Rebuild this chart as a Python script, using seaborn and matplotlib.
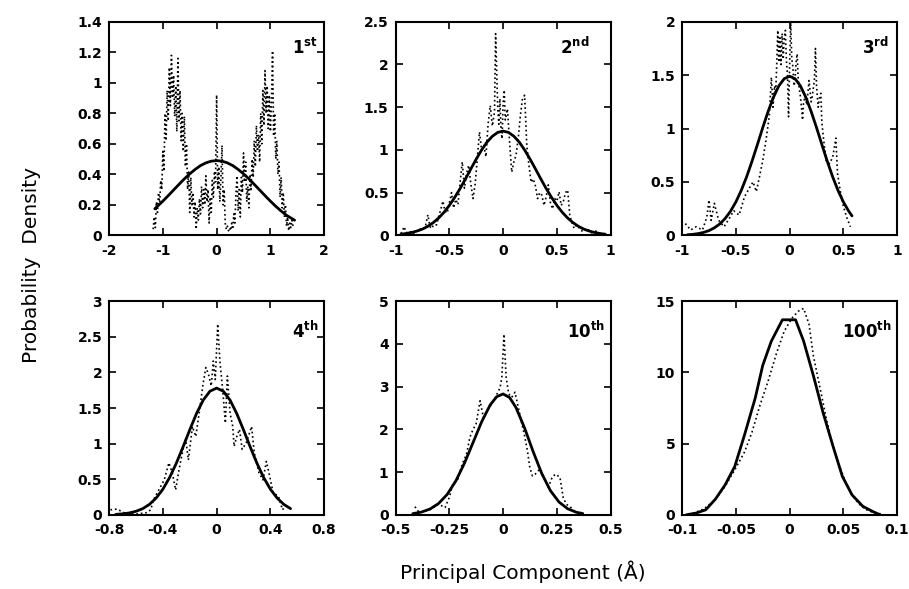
import matplotlib
matplotlib.use("Agg")
import matplotlib.pyplot as plt
import seaborn as sns
from matplotlib.ticker import FuncFormatter

# ---- 1st principal component: histogram (dotted) and gaussian fit (solid)
p1_x = [-1.18, -1.16, -1.14, -1.12, -1.10, -1.08, -1.06, -1.04, -1.02, -1.00,
        -0.98, -0.96, -0.94, -0.92, -0.90, -0.88, -0.86, -0.84, -0.82, -0.80,
        -0.78, -0.76, -0.74, -0.72, -0.70, -0.68, -0.66, -0.64, -0.62, -0.60,
        -0.58, -0.56, -0.54, -0.52, -0.50, -0.48, -0.46, -0.44, -0.42, -0.40,
        -0.38, -0.36, -0.34, -0.32, -0.30, -0.28, -0.26, -0.24, -0.22, -0.20,
        -0.18, -0.16, -0.14, -0.12, -0.10, -0.08, -0.06, -0.04, -0.02, 0.00,
        0.02, 0.04, 0.06, 0.08, 0.10, 0.12, 0.14, 0.16, 0.18, 0.20,
        0.22, 0.24, 0.26, 0.28, 0.30, 0.32, 0.34, 0.36, 0.38, 0.40,
        0.42, 0.44, 0.46, 0.48, 0.50, 0.52, 0.54, 0.56, 0.58, 0.60,
        0.62, 0.64, 0.66, 0.68, 0.70, 0.72, 0.74, 0.76, 0.78, 0.80,
        0.82, 0.84, 0.86, 0.88, 0.90, 0.92, 0.94, 0.96, 0.98, 1.00,
        1.02, 1.04, 1.06, 1.08, 1.10, 1.12, 1.14, 1.16, 1.18, 1.20,
        1.22, 1.24, 1.26, 1.28, 1.30, 1.32, 1.34, 1.36, 1.38, 1.40,
        1.42]
p1_y = [.04, .12, .05, .22, .15, .28, .20, .36, .30, .55,
        .42, .80, .62, .95, .75, 1.10, .85, 1.18, .90, 1.05,
        .78, .98, .68, 1.16, .75, .95, .62, .80, .55, .78,
        .45, .60, .30, .42, .15, .38, .20, .28, .12, .22,
        .04, .18, .10, .24, .14, .32, .18, .30, .20, .39,
        .22, .30, .08, .25, .15, .36, .25, .42, .35, .92,
        .30, .45, .22, .38, .59, .20, .30, .08, .04, .06,
        .03, .05, .03, .08, .04, .14, .08, .28, .39, .16,
        .30, .12, .38, .28, .54, .35, .48, .22, .32, .18,
        .40, .30, .50, .38, .62, .45, .72, .55, .66, .48,
        .80, .60, .95, .72, 1.08, .80, .98, .70, .92, .68,
        .88, 1.21, .65, .80, .50, .62, .40, .48, .25, .38,
        .18, .28, .12, .20, .06, .12, .03, .08, .05, .10,
        .06]
p1_fit_x = [-1.15, -1.0, -0.9, -0.8, -0.7, -0.6, -0.5, -0.4, -0.3, -0.2, -0.1, 0.0, 0.1,
            0.2, 0.3, 0.4, 0.5, 0.6, 0.7, 0.8, 0.9, 1.0, 1.1, 1.2, 1.3, 1.45]
p1_fit_y = [.174, .224, .260, .297, .334, .370, .403, .432, .457, .475, .486, .49, .486,
            .475, .457, .432, .403, .370, .334, .297, .260, .224, .190, .159, .131, .099]

# ---- 2nd
p2_x = [-0.95, -0.92, -0.90, -0.87, -0.84, -0.81, -0.78, -0.75, -0.72, -0.70,
        -0.68, -0.66, -0.64, -0.62, -0.60, -0.58, -0.56, -0.54, -0.52, -0.50,
        -0.48, -0.46, -0.44, -0.42, -0.40, -0.38, -0.36, -0.34, -0.32, -0.30,
        -0.28, -0.26, -0.24, -0.22, -0.20, -0.18, -0.16, -0.14, -0.12, -0.10,
        -0.08, -0.07, -0.05, -0.04, -0.03, -0.02, -0.01, 0.00, 0.01, 0.02,
        0.04, 0.06, 0.08, 0.10, 0.12, 0.14, 0.16, 0.18, 0.20, 0.22,
        0.24, 0.26, 0.28, 0.30, 0.32, 0.34, 0.36, 0.38, 0.40, 0.42,
        0.44, 0.46, 0.48, 0.50, 0.52, 0.54, 0.56, 0.58, 0.60, 0.62,
        0.64, 0.66, 0.68, 0.70, 0.72, 0.75, 0.78, 0.82, 0.86, 0.90,
        0.94]
p2_y = [.02, .10, .03, .05, .01, .04, .08, .06, .12, .24,
        .10, .08, .16, .12, .22, .30, .40, .28, .26, .38,
        .50, .32, .42, .36, .62, .86, .55, .72, .82, .60,
        .43, .60, .90, 1.21, 1.00, 1.05, .92, 1.30, 1.52, 1.28,
        1.45, 2.36, 1.48, 1.30, 1.60, 1.25, 1.13, 1.55, 1.70, 1.35,
        1.48, 1.09, .74, .86, .94, 1.13, 1.40, 1.60, 1.64, 1.05,
        .82, .62, .66, .58, .43, .50, .47, .35, .45, .59,
        .38, .31, .43, .40, .51, .35, .40, .50, .53, .23,
        .15, .08, .12, .10, .06, .04, .08, .03, .05, .02,
        .01]
p2_fit_x = [-0.95, -0.9, -0.85, -0.8, -0.75, -0.7, -0.65, -0.6, -0.55, -0.5, -0.45, -0.4, -0.35,
            -0.3, -0.25, -0.2, -0.15, -0.1, -0.05, 0.0, 0.05, 0.1, 0.15, 0.2, 0.25, 0.3, 0.35,
            0.4, 0.45, 0.5, 0.55, 0.6, 0.65, 0.7, 0.75, 0.8, 0.85, 0.9, 0.95]
p2_fit_y = [.013, .021, .033, .050, .073, .105, .148, .202, .269, .350, .444, .548, .661,
            .778, .893, .999, 1.091, 1.160, 1.205, 1.22, 1.205, 1.160, 1.091, .999, .893, .778, .661,
            .548, .444, .350, .269, .202, .148, .105, .073, .050, .033, .021, .013]

# ---- 3rd
p3_x = [-0.97, -0.92, -0.87, -0.81, -0.77, -0.75, -0.73, -0.70, -0.66, -0.61,
        -0.56, -0.52, -0.47, -0.42, -0.37, -0.34, -0.31, -0.28, -0.25, -0.22,
        -0.19, -0.17, -0.155, -0.14, -0.13, -0.12, -0.11, -0.10, -0.09, -0.08,
        -0.07, -0.06, -0.05, -0.04, -0.03, -0.02, -0.01, 0.00, 0.01, 0.02,
        0.03, 0.04, 0.05, 0.06, 0.07, 0.08, 0.10, 0.11, 0.12, 0.13,
        0.145, 0.16, 0.18, 0.20, 0.21, 0.23, 0.24, 0.25, 0.265, 0.28,
        0.29, 0.30, 0.32, 0.34, 0.37, 0.40, 0.43, 0.445, 0.47, 0.50,
        0.53, 0.565]
p3_y = [.11, .05, .08, .05, .17, .33, .14, .30, .14, .08,
        .16, .23, .19, .36, .45, .50, .41, .55, .70, .89,
        1.11, 1.48, 1.20, 1.40, 1.33, 1.60, 1.92, 1.62, 1.85, 1.60,
        1.89, 1.65, 1.85, 1.92, 1.64, 1.50, 1.11, 1.60, 2.00, 1.65,
        1.58, 1.40, 1.45, 1.62, 1.70, 1.45, 1.30, 1.20, 1.08, 1.25,
        1.30, 1.22, 1.45, 1.25, 1.30, 1.45, 1.75, 1.40, 1.20, 1.30,
        1.33, 1.05, .86, .70, .67, .73, .91, .58, .42, .27,
        .17, .08]
p3_fit_x = [-0.95, -0.9, -0.85, -0.8, -0.75, -0.7, -0.65, -0.6, -0.55, -0.5, -0.45, -0.4, -0.35,
            -0.3, -0.25, -0.2, -0.15, -0.1, -0.05, 0.0, 0.05, 0.1, 0.15, 0.2, 0.25, 0.3, 0.35,
            0.4, 0.45, 0.5, 0.55, 0.58]
p3_fit_y = [.005, .009, .016, .027, .044, .070, .106, .157, .225, .312, .420, .548, .693,
            .849, 1.009, 1.160, 1.294, 1.400, 1.467, 1.49, 1.467, 1.400, 1.294, 1.160, 1.009, .849, .693,
            .548, .420, .312, .225, .182]

# ---- 4th
p4_x = [-0.79, -0.74, -0.68, -0.60, -0.52, -0.49, -0.47, -0.43, -0.39, -0.355,
        -0.33, -0.305, -0.28, -0.25, -0.23, -0.21, -0.18, -0.155, -0.13, -0.10,
        -0.08, -0.06, -0.04, -0.025, -0.01, 0.008, 0.025, 0.045, 0.065, 0.08,
        0.10, 0.12, 0.13, 0.15, 0.17, 0.19, 0.22, 0.26, 0.28, 0.315,
        0.345, 0.37, 0.395, 0.42, 0.46, 0.49, 0.51]
p4_y = [.07, .08, .02, .01, .03, .07, .21, .35, .49, .73,
        .59, .35, .63, .92, 1.06, .77, 1.24, 1.10, 1.43, 1.85,
        2.07, 1.97, 1.81, 2.16, 1.90, 2.68, 2.14, 1.76, 1.29, 1.95,
        1.43, 1.24, .96, 1.10, 1.20, .92, 1.01, 1.24, .87, .59,
        .49, .75, .54, .31, .26, .07, .12]
p4_fit_x = [-0.75, -0.7, -0.65, -0.6, -0.55, -0.5, -0.45, -0.4, -0.35, -0.3, -0.25, -0.2, -0.15,
            -0.1, -0.05, 0.0, 0.05, 0.1, 0.15, 0.2, 0.25, 0.3, 0.35, 0.4, 0.45, 0.5, 0.55]
p4_fit_y = [.006, .013, .026, .049, .086, .146, .235, .359, .523, .724, .953, 1.193, 1.421,
            1.611, 1.736, 1.78, 1.736, 1.611, 1.421, 1.193, .953, .724, .523, .359, .235, .146, .086]

# ---- 10th
p5_x = [-0.41, -0.39, -0.36, -0.335, -0.30, -0.27, -0.25, -0.234, -0.21, -0.19,
        -0.17, -0.155, -0.14, -0.126, -0.107, -0.092, -0.075, -0.053, -0.032, -0.014,
        -0.006, 0.004, 0.014, 0.026, 0.04, 0.055, 0.069, 0.084, 0.098, 0.113,
        0.124, 0.136, 0.149, 0.17, 0.19, 0.21, 0.228, 0.243, 0.264, 0.279,
        0.293, 0.315, 0.33]
p5_y = [.19, .05, .09, .13, .25, .17, .41, .72, .84, 1.19,
        1.42, 1.81, 2.00, 2.12, 2.67, 2.28, 2.44, 2.59, 2.79, 2.98,
        3.22, 4.23, 3.22, 2.83, 2.75, 2.87, 2.55, 2.20, 1.89, 1.50,
        1.11, .91, .95, 1.07, .88, .64, .88, .95, .88, .41,
        .25, .17, .09]
p5_fit_x = [-0.42, -0.38, -0.34, -0.30, -0.26, -0.22, -0.18, -0.14, -0.10, -0.06, -0.03, 0.0,
            0.03, 0.06, 0.10, 0.14, 0.18, 0.22, 0.26, 0.30, 0.34, 0.37]
p5_fit_y = [.027, .063, .135, .265, .478, .792, 1.206, 1.690, 2.176, 2.575, 2.765, 2.83,
            2.746, 2.510, 2.029, 1.473, .961, .564, .297, .141, .060, .030]

# ---- 100th
p6_x = [-0.090, -0.080, -0.070, -0.060, -0.050, -0.042, -0.035, -0.028, -0.020, -0.012,
        -0.005, 0.002, 0.008, 0.013, 0.018, 0.022, 0.028, 0.034, 0.040, 0.046,
        0.052, 0.058, 0.064, 0.070, 0.078, 0.086]
p6_y = [0.1, 0.4, 1.0, 2.0, 3.3, 4.4, 5.8, 7.6, 9.4, 11.4,
        12.9, 13.8, 14.3, 14.5, 13.4, 11.2, 9.0, 6.8, 4.9, 3.5,
        2.3, 1.4, 0.8, 0.4, 0.15, 0.05]
p6_fit_x = [-0.096, -0.087, -0.078, -0.069, -0.060, -0.051, -0.042, -0.032, -0.025, -0.017,
            -0.0067, 0.0055, 0.013, 0.022, 0.031, 0.040, 0.049, 0.058, 0.068, 0.077, 0.084]
p6_fit_y = [0.0, 0.12, 0.35, 1.1, 2.1, 3.4, 5.6, 8.2, 10.5, 12.2,
            13.7, 13.7, 12.2, 9.8, 7.2, 4.9, 2.7, 1.4, 0.6, 0.24, 0.0]

# axis ranges / ticks and panel names
x_ticks = [[-2, -1, 0, 1, 2], [-1, -0.5, 0, 0.5, 1], [-1, -0.5, 0, 0.5, 1],
           [-0.8, -0.4, 0, 0.4, 0.8], [-0.5, -0.25, 0, 0.25, 0.5], [-0.1, -0.05, 0, 0.05, 0.1]]
y_ticks = [[0, 0.2, 0.4, 0.6, 0.8, 1, 1.2, 1.4], [0, 0.5, 1, 1.5, 2, 2.5], [0, 0.5, 1, 1.5, 2],
           [0, 0.5, 1, 1.5, 2, 2.5, 3], [0, 1, 2, 3, 4, 5], [0, 5, 10, 15]]
names = [("1", "st"), ("2", "nd"), ("3", "rd"), ("4", "th"), ("10", "th"), ("100", "th")]
name_x = [0.97, 0.90, 0.96, 0.975, 0.975, 0.975]

traces = [(p1_x, p1_y), (p2_x, p2_y), (p3_x, p3_y), (p4_x, p4_y), (p5_x, p5_y), (p6_x, p6_y)]
fits = [(p1_fit_x, p1_fit_y), (p2_fit_x, p2_fit_y), (p3_fit_x, p3_fit_y),
        (p4_fit_x, p4_fit_y), (p5_fit_x, p5_fit_y), (p6_fit_x, p6_fit_y)]

sns.set_theme(style="ticks")
plt.rcParams['font.family'] = ['DejaVu Sans']
plt.rcParams['axes.unicode_minus'] = False
plt.rcParams['text.color'] = 'black'

fig, axes = plt.subplots(2, 3, figsize=(9.09, 5.89), dpi=100)
fig.subplots_adjust(left=0.12, right=0.987, top=0.963, bottom=0.126, wspace=0.332, hspace=0.309)

fmt = FuncFormatter(lambda v, p: '%g' % v)

for i, ax in enumerate(axes.flat):
    tx, ty = traces[i]
    fx, fy = fits[i]
    sns.lineplot(x=tx, y=ty, ax=ax, color='black', linewidth=1.2,
                 linestyle=(0, (1, 1.7)), sort=False, estimator=None)
    sns.lineplot(x=fx, y=fy, ax=ax, color='black', linewidth=2.0,
                 sort=False, estimator=None)

    ax.set_xlim(x_ticks[i][0], x_ticks[i][-1])
    ax.set_ylim(y_ticks[i][0], y_ticks[i][-1])
    ax.set_xticks(x_ticks[i])
    ax.set_yticks(y_ticks[i])
    ax.xaxis.set_major_formatter(fmt)
    ax.yaxis.set_major_formatter(fmt)
    ax.tick_params(direction='in', top=True, right=True, length=5, width=1.2,
                   labelsize=10, colors='black')
    ax.tick_params(axis='x', pad=6)
    ax.tick_params(axis='y', pad=5)
    for lab in ax.get_xticklabels() + ax.get_yticklabels():
        lab.set_fontweight('bold')
    for sp in ax.spines.values():
        sp.set_linewidth(1.5)
        sp.set_color('black')

    num, suf = names[i]
    ax.text(name_x[i], 0.85 if i < 3 else 0.83, r'$\mathbf{%s}^{\mathbf{%s}}$' % (num, suf),
            transform=ax.transAxes, ha='right', va='baseline', fontsize=12, color='black')

fig.text(0.035, 0.55, 'Probability  Density', rotation=90, ha='center', va='center',
         fontsize=14.5, color='black')
fig.text(0.575, 0.029, 'Principal Component (Å)', ha='center', va='center',
         fontsize=14.5, color='black')

fig.savefig('out.png', dpi=100, facecolor='white')
